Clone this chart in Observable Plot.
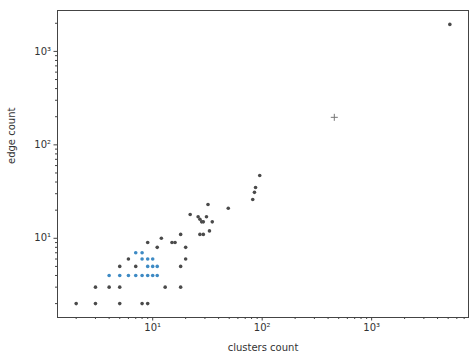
<!DOCTYPE html>
<html>
<head>
<meta charset="utf-8">
<script src="https://cdn.jsdelivr.net/npm/d3@7"></script>
<script src="https://cdn.jsdelivr.net/npm/@observablehq/plot@0.6"></script>
<style>
  html, body { margin: 0; padding: 0; background: #fff; }
  svg { display: block; }
</style>
</head>
<body>
<div id="chart"></div>
<script>
// clusters count (x) and edge count (y)
const clusters = [2, 3, 5, 8, 9,
  3, 4, 5, 13, 18,
  4, 5, 6, 7, 8, 9, 10, 11,
  5, 7, 9, 10, 11, 18,
  6, 8, 9, 10, 20,
  7, 8,
  11, 20,
  9, 15, 16,
  12,
  18, 27, 29,
  33,
  29, 35, 28, 27, 26, 31, 22,
  49, 32, 82, 85, 87, 95,
  456, 5180];
const edges = [2, 2, 2, 2, 2,
  3, 3, 3, 3, 3,
  4, 4, 4, 4, 4, 4, 4, 4,
  5, 5, 5, 5, 5, 5,
  6, 6, 6, 6, 6,
  7, 7,
  8, 8,
  9, 9, 9,
  10,
  11, 11, 11,
  12,
  15, 15, 15, 16, 17, 17, 18,
  21, 23, 26, 31, 35, 47,
  197, 1945];
// which points show as blue (dense region) vs dark
const blueGroup = [0, 0, 0, 0, 0,
  0, 0, 0, 0, 0,
  1, 1, 1, 1, 1, 1, 1, 1,
  0, 0, 1, 1, 1, 0,
  0, 1, 1, 1, 0,
  1, 1,
  0, 0,
  0, 0, 0,
  0,
  0, 0, 0,
  0,
  0, 0, 0, 0, 0, 0, 0,
  0, 0, 0, 0, 0, 0,
  0, 0];
const majorTicks = [10, 100, 1000];
const xMinor = [2,3,4,5,6,7,8,9, 20,30,40,50,60,70,80,90, 200,300,400,500,600,700,800,900, 2000,3000,4000,5000,6000,7000];
const yMinor = [2,3,4,5,6,7,8,9, 20,30,40,50,60,70,80,90, 200,300,400,500,600,700,800,900, 2000];
const xLabel = "clusters count";
const yLabel = "edge count";

const data = clusters.map((c, i) => ({x: c, y: edges[i], blue: blueGroup[i]}));
const sup = {1: "\u00b9", 2: "\u00b2", 3: "\u00b3"};
const fmt = d => "10" + sup[Math.round(Math.log10(d))];

const chart = Plot.plot({
  width: 470,
  height: 359,
  marginLeft: 57,
  marginRight: 2,
  marginTop: 10,
  marginBottom: 42,
  style: {fontFamily: "DejaVu Sans", fontSize: "10px", color: "#333", background: "#fff"},
  x: {type: "log", domain: [1.35, 7670]},
  y: {type: "log", domain: [1.42, 2740]},
  marks: [
    Plot.frame({stroke: "#444"}),
    Plot.axisX(xMinor, {tickSize: 2, tickFormat: () => "", label: null, stroke: "#444"}),
    Plot.axisX(majorTicks, {tickSize: 3.5, tickPadding: 3, tickFormat: fmt, label: null, stroke: "#444", fontSize: 10}),
    Plot.axisY(yMinor, {tickSize: 2, tickFormat: () => "", label: null, stroke: "#444"}),
    Plot.axisY(majorTicks, {tickSize: 3.5, tickPadding: 3, tickFormat: fmt, label: null, stroke: "#444", fontSize: 10}),
    Plot.text([xLabel], {frameAnchor: "bottom", dy: 33, text: d => d, fontSize: 10, fill: "#333"}),
    Plot.text([yLabel], {frameAnchor: "left", dx: -46, rotate: -90, text: d => d, fontSize: 10, fill: "#333"}),
    Plot.dot(data.filter(d => !d.blue && d.x !== 456), {x: "x", y: "y", r: 1.8, fill: "#4a4a4a", stroke: "none"}),
    Plot.dot(data.filter(d => d.blue), {x: "x", y: "y", r: 1.8, fill: "#3d8ac4", stroke: "none"}),
    Plot.dot(data.filter(d => d.x === 456), {x: "x", y: "y", symbol: "plus", r: 2.4, fill: "none", stroke: "#777", strokeWidth: 1})
  ]
});
document.getElementById("chart").appendChild(chart);
</script>
</body>
</html>
